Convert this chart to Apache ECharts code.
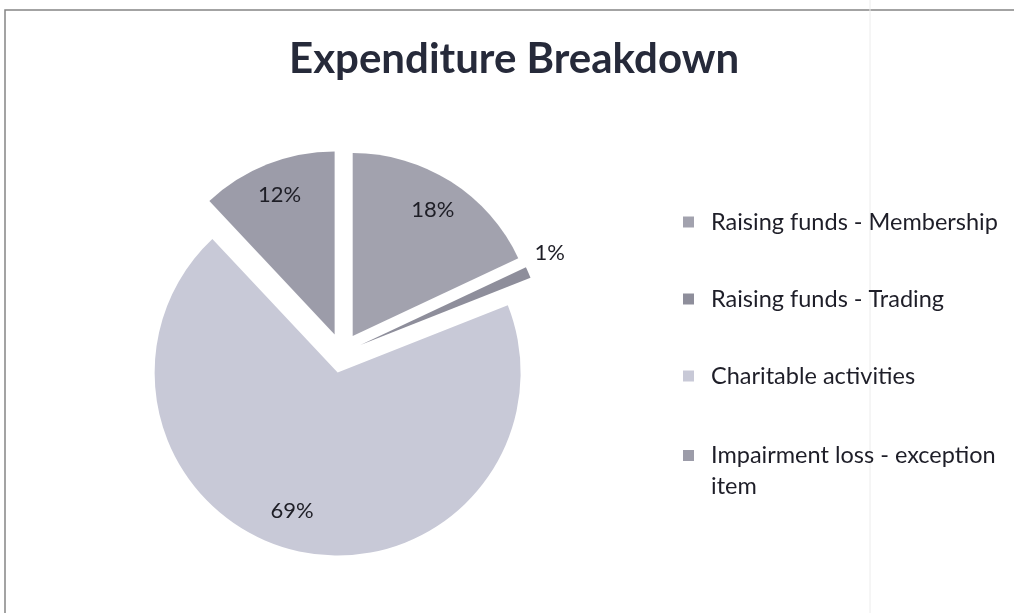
<!DOCTYPE html>
<html>
<head>
<meta charset="utf-8">
<script src="https://cdn.jsdelivr.net/npm/echarts@6/dist/echarts.min.js"></script>
<style>
  html, body { margin: 0; padding: 0; background: #fff; }
  #chart { width: 1014px; height: 613px; }
</style>
</head>
<body>
<div id="chart"></div>
<script>
// data
var categories = ['Raising funds - Membership', 'Raising funds - Trading', 'Charitable activities', 'Impairment loss - exception item'];
var shares = [18, 1, 69, 12];
var sliceColors = ['#a2a2ae', '#8e8e9b', '#c8c9d7', '#9c9ca9'];

var chart = echarts.init(document.getElementById('chart'));

var pieData = categories.map(function (name, i) {
  return { name: name, value: shares[i], selected: true, itemStyle: { color: sliceColors[i] } };
});

// transparent copy, only used to place the labels further out than 'inside' does
var labelData = categories.map(function (name, i) {
  var item = { name: name, value: shares[i], selected: true, itemStyle: { color: 'rgba(0,0,0,0)' } };
  if (shares[i] < 3) {
    item.label = { position: 'outside' };
  }
  return item;
});

var option = {
  backgroundColor: '#fff',
  animation: false,
  title: {
    text: 'Expenditure Breakdown',
    left: 289,
    top: 38,
    padding: 0,
    textStyle: { fontFamily: 'Lato', fontWeight: 'bold', fontSize: 42, color: '#262a3a' }
  },
  legend: [{
    orient: 'vertical',
    left: 683,
    top: 207,
    padding: 0,
    data: categories.slice(0, 3),
    icon: 'rect',
    itemWidth: 11,
    itemHeight: 11,
    itemGap: 47,
    textStyle: { fontFamily: 'Lato', fontSize: 23.5, color: '#1e1e28', lineHeight: 30, padding: [0, 0, 0, 12] }
  }, {
    orient: 'vertical',
    left: 683,
    top: 409,
    padding: 0,
    data: categories.slice(3),
    icon: 'rect',
    itemWidth: 11,
    itemHeight: 11,
    formatter: function (name) {
      return ' \nImpairment loss - exception\nitem';
    },
    textStyle: { fontFamily: 'Lato', fontSize: 23.5, color: '#1e1e28', lineHeight: 31, padding: [0, 0, 0, 12] }
  }],
  graphic: [{
    type: 'rect',
    shape: { x: 5, y: 10, width: 1030, height: 640 },
    style: { fill: 'none', stroke: '#858585', lineWidth: 1.5 },
    silent: true
  }, {
    type: 'line',
    shape: { x1: 870, y1: 0, x2: 870, y2: 613 },
    style: { stroke: '#ececec', lineWidth: 1 },
    silent: true
  }],
  series: [{
    type: 'pie',
    center: [342, 353],
    radius: [0, 183],
    startAngle: 90,
    selectedMode: 'multiple',
    selectedOffset: 20,
    silent: true,
    label: { show: false },
    labelLine: { show: false },
    emphasis: { disabled: true },
    data: pieData
  }, {
    type: 'pie',
    center: [342, 353],
    radius: [110, 183],
    startAngle: 90,
    selectedMode: 'multiple',
    selectedOffset: 20,
    silent: true,
    label: {
      show: true,
      position: 'inside',
      fontFamily: 'Lato',
      fontSize: 22,
      color: '#1e1e26',
      formatter: function (p) { return Math.round(p.percent) + '%'; }
    },
    labelLine: { show: false, length: 10, length2: 0 },
    // nudge the small outside label and the big one towards where Excel put them
    labelLayout: function (params) {
      if (params.dataIndex === 1) return { dx: -8, dy: -16 };
      if (params.dataIndex === 2) return { dx: -13, dy: -8 };
      return {};
    },
    emphasis: { disabled: true },
    data: labelData
  }]
};

chart.setOption(option);
</script>
</body>
</html>
